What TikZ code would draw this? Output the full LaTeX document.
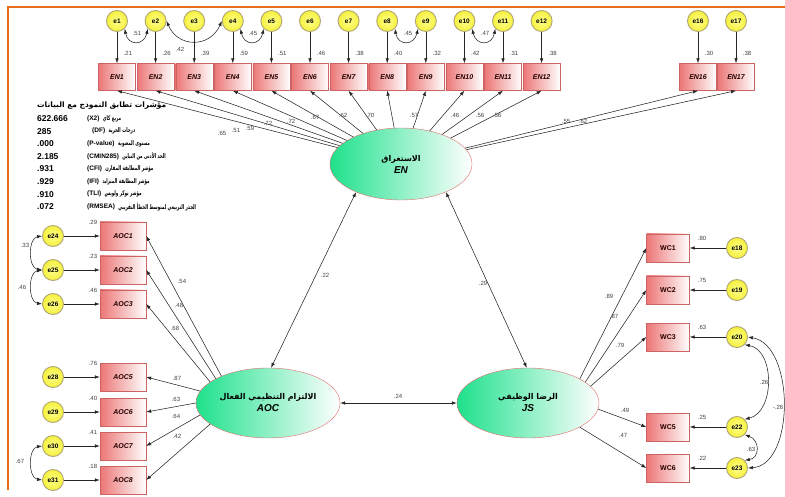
\documentclass[tikz,border=0pt]{standalone}
\usepackage{fontspec}
\setmainfont{Liberation Sans}
\newfontfamily\arabicfont[Script=Arabic]{DejaVu Sans}
\newfontfamily\arabicnarrow[Script=Arabic,FakeStretch=0.62]{DejaVu Sans}
\TeXXeTstate=1
\usetikzlibrary{shapes.geometric,arrows.meta}

\definecolor{framecol}{RGB}{228,110,28}
\definecolor{boxred}{RGB}{236,118,118}
\definecolor{boxline}{RGB}{205,100,100}
\definecolor{latgreen}{RGB}{30,225,140}
\definecolor{latline}{RGB}{225,110,110}
\definecolor{erryel}{RGB}{245,240,60}
\definecolor{errline}{RGB}{175,165,120}

\tikzset{
  obs/.style={draw=boxline, left color=boxred, right color=white, minimum width=37pt, minimum height=27pt, inner sep=0pt, text=black!85!red, font=\fontsize{7}{7}\selectfont\bfseries\itshape},
  lat/.style={ellipse, draw=latline, left color=latgreen, right color=white, minimum width=142pt, minimum height=72pt, inner sep=0pt, align=center, font=\fontsize{8}{12}\selectfont\bfseries\itshape},
  err/.style={circle, draw=errline, line width=0.9pt, inner color=yellow!45, outer color=erryel, minimum size=21pt, inner sep=0pt, font=\fontsize{6.5}{6.5}\selectfont\bfseries},
  load/.style={-{Latex[length=5pt,width=3.5pt]}, line width=0.55pt, black!85},
  cov/.style={{Latex[length=5pt,width=3.5pt]}-{Latex[length=5pt,width=3.5pt]}, line width=0.55pt, black!85},
  est/.style={font=\fontsize{6}{6}\selectfont, text=black!75, inner sep=0.5pt},
  fitrow/.style={font=\fontsize{6.5}{6.5}\selectfont\bfseries, inner sep=0pt, anchor=west},
}

\begin{document}
\begin{tikzpicture}[x=1pt,y=-1pt]
\useasboundingbox (0,0) rectangle (785,497);
\draw[framecol, line width=2.5pt] (8,490) -- (8,7) -- (785,7); %frame

% EN indicators
\foreach \i/\q in {1/.21,2/.26,3/.39,4/.59,5/.51,6/.46,7/.38,8/.40,9/.32,10/.42,11/.31,12/.38}{
  \node[obs] (EN\i) at ({117+(\i-1)*38.6},77) {EN\i};
  \node[err] (e\i) at ({117+(\i-1)*38.6},21) {e\i};
  \draw[load] (e\i) -- (EN\i);
  \node[est] (r\i) at ({128+(\i-1)*38.6},53) {\q};
}
\foreach \i/\x/\q in {16/698/.30,17/736/.38}{
  \node[obs] (EN\i) at (\x,77) {EN\i};
  \node[err] (e\i) at (\x,21) {e\i};
  \draw[load] (e\i) -- (EN\i);
  \node[est] (r\i) at (\x+11,53) {\q};
}

\node[lat] (EN) at (401,164) {{\arabicfont\upshape\beginR الاستغراق\endR}\\{\fontsize{10}{12}\selectfont EN}};
\foreach \i/\lx/\ly/\v in {1/222/133/.65,2/236/130/.51,3/250/128/.59,4/268/123/.72,5/291/121/.72,6/315/117/.67,7/343/115/.62,8/370/115/.70,9/414/115/.57,10/455/115/.46,11/480/115/.56,12/497/115/.56,16/566/121/.55,17/583/121/.62}{
  \draw[load] (EN) -- (EN\i.south);
  \node[est] (l\i) at (\lx,\ly) {\v};
}

% error covariances, top
\draw[cov] (e1.south east) .. controls (128,46) and (144,46) .. (e2.south west);
\node[est] (c1) at (137,33) {.51};
\draw[cov] (e2.east) .. controls (178,48) and (210,48) .. (e4.west);
\node[est] (c2) at (180,49) {.42};
\draw[cov] (e4.south east) .. controls (244,46) and (260,46) .. (e5.south west);
\node[est] (c3) at (253,33) {.45};
\draw[cov] (e8.south east) .. controls (398,46) and (414,46) .. (e9.south west);
\node[est] (c4) at (408,33) {.45};
\draw[cov] (e10.south east) .. controls (476,46) and (492,46) .. (e11.south west);
\node[est] (c5) at (485,33) {.47};

% fit indices
\node[fitrow, font=\fontsize{7.5}{7.5}\selectfont\bfseries] (ftitle) at (37,106) {\arabicfont\beginR مؤشرات تطابق النموذج مع البيانات\endR};
\foreach \k/\n/\px/\p/\a in {1/622.666/87/(X2)/مربع كاي,2/285/92/(DF)/درجات الحرية,3/.000/87/(P-value)/مستوى المعنوية,4/2.185/87/(CMIN285)/الحد الأدنى من التباين,5/.931/87/(CFI)/مؤشر المطابقة المقارن,6/.929/87/(IFI)/مؤشر المطابقة المتزايد,7/.910/87/(TLI)/مؤشر توكر ولويس,8/.072/87/(RMSEA)/الجذر التربيعي لمتوسط الخطأ التقريبي}{
  \node[fitrow, font=\fontsize{8.5}{8.5}\selectfont\bfseries] (fn\k) at (37,{106+12.6*\k}) {\n};
  \node[fitrow] (fp\k) at (\px,{106+12.6*\k}) {\p};
  \node[fitrow] (fa\k) at ([xshift=3pt]fp\k.east) {\arabicnarrow\beginR\a\endR};
}

% AOC side
\node[lat, minimum width=144pt, minimum height=70pt] (AOC) at (268,403) {{\arabicfont\upshape\beginR الالتزام التنظيمي الفعال\endR}\\{\fontsize{10}{12}\selectfont AOC}};
\foreach \i/\e/\y/\q/\v/\a/\lx/\ly in {1/24/236/.29/.54/150/182/281,2/25/270/.23/.48/155/179/305,3/26/304/.46/.68/160/175/328,5/28/377/.76/.87/170/177/378,6/29/412/.40/.63/180/176/399,7/30/446/.41/.64/190/176/416,8/31/480/.18/.42/200/177/436}{
  \node[obs, minimum width=46pt, minimum height=28pt] (AOC\i) at (123,\y) {AOC\i};
  \node[err] (e\e) at (53,\y) {e\e};
  \draw[load] (e\e) -- (AOC\i);
  \node[est] (rA\i) at (93,\y-14) {\q};
  \draw[load] (AOC.\a) -- (AOC\i.east);
  \node[est] (lA\i) at (\lx,\ly) {\v};
}
\draw[cov] (e24.west) .. controls (28,238) and (28,268) .. (e25.west);
\node[est] (c6) at (25,245) {.33};
\draw[cov] (e25.west) .. controls (28,272) and (28,302) .. (e26.west);
\node[est] (c7) at (22,287) {.46};
\draw[cov] (e30.west) .. controls (28,448) and (28,478) .. (e31.west);
\node[est] (c8) at (20,461) {.67};

% JS side
\node[lat, minimum height=70pt] (JS) at (528,403) {{\arabicfont\upshape\beginR الرضا الوظيفي\endR}\\{\fontsize{10}{12}\selectfont JS}};
\foreach \i/\e/\y/\q/\v/\a/\lx/\ly in {1/18/248/.80/.89/25/609/296,2/19/290/.75/.87/20/614/316,3/20/337/.63/.79/15/620/345,5/22/427/.25/.49/355/625/410,6/23/468/.22/.47/335/623/435}{
  \node[obs, minimum width=43pt, minimum height=28pt, font=\fontsize{7}{7}\selectfont\bfseries] (WC\i) at (668,\y) {WC\i};
  \node[err] (e\e) at (737,\y) {e\e};
  \draw[load] (e\e) -- (WC\i);
  \node[est] (rW\i) at (702,\y-10) {\q};
  \draw[load] (JS.\a) -- (WC\i.west);
  \node[est] (lW\i) at (\lx,\ly) {\v};
}
\draw[cov] (e20.south east) .. controls (775,350) and (775,412) .. (e22.north east);
\node[est] (c9) at (764,382) {.26};
\draw[cov] (e20.east) .. controls (795,345) and (795,465) .. (e23.east);
\node[est, fill=white] (c10) at (778,407) {-.26};
\draw[cov] (e22.south east) .. controls (760,440) and (760,458) .. (e23.north east);
\node[est] (c11) at (751,449) {.63};

% latent covariances
\draw[cov] (EN.212) -- (AOC.85);
\node[est] (c12) at (325,275) {.22};
\draw[cov] (EN.328) -- (JS.92);
\node[est] (c13) at (483,283) {.29};
\draw[cov] (AOC) -- (JS);
\node[est] (c14) at (398,396) {.24};

\end{tikzpicture}
\end{document}
